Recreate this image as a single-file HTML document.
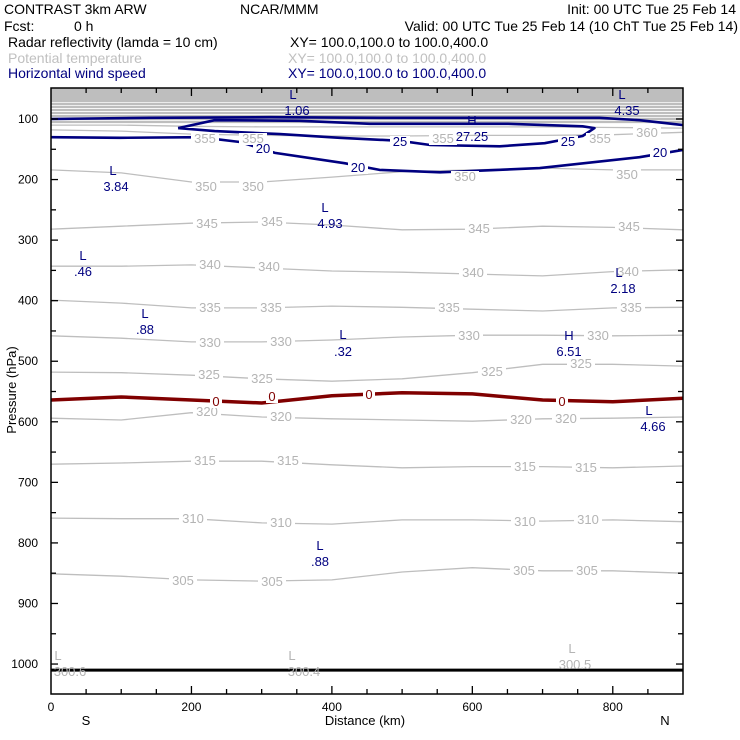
<!DOCTYPE html>
<html><head><meta charset="utf-8"><style>
html,body{margin:0;padding:0;background:#fff;}
svg{display:block;font-family:"Liberation Sans",sans-serif;}
</style></head><body>
<svg id="chart" width="740" height="740" viewBox="0 0 740 740">
<g font-size="14">
<text x="4" y="14">CONTRAST  3km ARW</text>
<text x="240" y="14">NCAR/MMM</text>
<text x="736" y="14" text-anchor="end">Init: 00 UTC Tue 25 Feb 14</text>
<text x="4" y="31">Fcst:</text>
<text x="74" y="31">0 h</text>
<text x="738" y="31" text-anchor="end">Valid: 00 UTC Tue 25 Feb 14 (10 ChT Tue 25 Feb 14)</text>
<text x="8" y="47">Radar reflectivity (lamda = 10 cm)</text>
<text x="290" y="47">XY= 100.0,100.0 to 100.0,400.0</text>
<text x="8" y="63" fill="#c0c0c0">Potential temperature</text>
<text x="288" y="63" fill="#c0c0c0">XY= 100.0,100.0 to 100.0,400.0</text>
<text x="8" y="78" fill="#000080">Horizontal wind speed</text>
<text x="288" y="78" fill="#000080">XY= 100.0,100.0 to 100.0,400.0</text>
</g>
<g id="plot"></g>
</svg>
<script>
// ---- data ----
const xKm = [0,100,200,300,400,500,600,700,800,900];
const thetaLevels = [305,310,315,320,325,330,335,340,345,350,355,360];
const thetaP305 = [851,855,861,863,861,848,841,846,846,850];
const thetaP310 = [759,760,760,767,769,762,762,764,762,765];
const thetaP315 = [670,668,665,665,671,676,674,674,676,673];
const thetaP320 = [594,597,585,592,595,597,599,595,594,592];
const thetaP325 = [518,519,523,529,533,529,519,505,505,508];
const thetaP330 = [458,462,468,468,465,460,457,457,458,457];
const thetaP335 = [399,404,412,412,409,411,414,417,412,411];
const thetaP340 = [343,343,341,346,351,353,356,359,352,349];
const thetaP345 = [282,277,272,270,275,283,282,277,279,283];
const thetaP350 = [184,189,204,204,196,187,184,181,184,184];
const thetaP355 = [118,120,125,127,128,128,127,127,126,122];
const thetaP360 = [110,110,112,113,113,113,113,113,114,115];
const stratoP = [75,80,85,90,95,100,105];
const freezeP = [564,559,564,569,557,552,554,564,567,561];
const surfaceP = [1010,1010,1010,1010,1010,1010,1010,1010,1010,1010];
const wind20UpperKm = [0,141,312,468,568,696,781,838,900];
const wind20UpperP = [100,98,97,98,98,98,98,102,110];
const wind20LowerKm = [0,98,212,269,319,418,468,554,696,838,900];
const wind20LowerP = [130,131,130,138,156,173,184,188,181,163,151];
const wind25Km = [181,233,354,454,572,651,757,774,757,703,639,540,497,411,326,233,181];
const wind25P = [115,102,103,108,108,108,112,115,128,140,145,143,136,131,125,120,115];
const yTicks = [100,200,300,400,500,600,700,800,900,1000];
const xTicks = [0,200,400,600,800];

// ---- axes ----
const X0=51,X1=683,Y0=88,Y1=694;
const sx = km => X0 + km*(X1-X0)/900;
const sy = p => 119 + (p-100)*0.6056;
const NS='http://www.w3.org/2000/svg';
const plot=document.getElementById('plot');
function mk(tag,attrs,parent){const e=document.createElementNS(NS,tag);for(const k in attrs)e.setAttribute(k,attrs[k]);(parent||plot).appendChild(e);return e;}
function txt(x,y,s,fill,size,anchor,parent){const t=mk('text',{x:x,y:y,fill:fill,'font-size':size,'text-anchor':anchor||'middle'},parent);t.textContent=s;return t;}
function poly(kms,ps,stroke,w){return mk('polyline',{points:kms.map((k,i)=>sx(k).toFixed(1)+','+sy(ps[i]).toFixed(1)).join(' '),fill:'none',stroke:stroke,'stroke-width':w,'stroke-linejoin':'round'});}

const clip=mk('clipPath',{id:'pc'});mk('rect',{x:X0,y:Y0,width:X1-X0,height:Y1-Y0},clip);
const g=mk('g',{'clip-path':'url(#pc)'});



// stratosphere dense band
const band=mk('rect',{x:X0,y:Y0,width:X1-X0,height:sy(72)-Y0,fill:'#bebebe'},g);


stratoP.forEach(p=>{const l=mk('line',{x1:X0,x2:X1,y1:sy(p),y2:sy(p),stroke:'#bebebe','stroke-width':2.2},g);

});

const thetaSeries=[thetaP305,thetaP310,thetaP315,thetaP320,thetaP325,thetaP330,thetaP335,thetaP340,thetaP345,thetaP350,thetaP355,thetaP360];
thetaSeries.forEach((ps,i)=>{const l=poly(xKm,ps,'#bebebe',1.3);g.appendChild(l);

});

const fl=poly(xKm,freezeP,'#800000',3.5);g.appendChild(fl);



[[wind20UpperKm,wind20UpperP,'20-upper'],[wind20LowerKm,wind20LowerP,'20-lower'],[wind25Km,wind25P,'25']].forEach(s=>{
const l=poly(s[0],s[1],'#000080',2.6);g.appendChild(l);

});

const sf=poly(xKm,surfaceP,'#000',3);g.appendChild(sf);



// contour labels
const lblG=mk('g',{},g);


function lab(x,y,s,col,bg){ if(bg){mk('rect',{x:x-s.length*4-2,y:y-10,width:s.length*8+4,height:12,fill:'#fff'},lblG);} const t=txt(x,y,s,col,13,'middle',lblG);

}
const grayL=[[183,581,'305'],[272,582,'305'],[524,571,'305'],[587,571,'305'],
[193,519,'310'],[281,523,'310'],[525,522,'310'],[588,520,'310'],
[205,461,'315'],[288,461,'315'],[525,467,'315'],[586,468,'315'],
[207,412,'320'],[281,417,'320'],[521,420,'320'],[566,419,'320'],
[209,375,'325'],[262,379,'325'],[492,372,'325'],[581,364,'325'],
[210,343,'330'],[281,342,'330'],[469,336,'330'],[598,336,'330'],
[210,308,'335'],[271,308,'335'],[449,308,'335'],[631,308,'335'],
[210,265,'340'],[269,267,'340'],[473,273,'340'],[628,272,'340'],
[207,224,'345'],[272,222,'345'],[479,229,'345'],[629,227,'345'],
[206,187,'350'],[253,187,'350'],[465,177,'350'],[627,175,'350'],
[205,139,'355'],[253,139,'355'],[443,139,'355'],[600,139,'355'],[647,133,'360']];
grayL.forEach(a=>lab(a[0],a[1]+4,a[2],'#b4b4b4',true));
[[216,401],[272,396],[369,394],[562,401]].forEach(a=>lab(a[0],a[1]+5,'0','#800000',true));
[[263,148],[358,167],[660,152],[400,141],[568,141]].forEach((a,i)=>lab(a[0],a[1]+5,i<3?'20':'25','#000080',true));
const hl=[['L',293,94],['1.06',297,110],['L',622,94],['4.35',627,110],['H',472,120],['27.25',472,136],
['L',113,170],['3.84',116,186],['L',325,207],['4.93',330,223],['L',83,255],['.46',83,271],
['L',619,272],['2.18',623,288],['L',145,313],['.88',145,329],['L',343,334],['.32',343,351],
['H',569,335],['6.51',569,351],['L',649,410],['4.66',653,426],['L',320,545],['.88',320,561]];
hl.forEach(a=>lab(a[1],a[2]+5,a[0],'#000080',false));
[['L',58,655],['300.6',70,671],['L',292,655],['300.4',304,671],['L',572,648],['300.5',575,664]].forEach(a=>lab(a[1],a[2]+5,a[0],'#b4b4b4',false));

// frame & ticks
const fr=mk('rect',{x:X0,y:Y0,width:X1-X0,height:Y1-Y0,fill:'none',stroke:'#000','stroke-width':1.5});


for(let p=50;p<=1050;p+=50){const y=sy(p);if(y<Y0+1||y>Y1-1)continue;const L=(p%100===0)?7:5;
mk('line',{x1:X0,x2:X0+L,y1:y,y2:y,stroke:'#000','stroke-width':1.3});mk('line',{x1:X1-L,x2:X1,y1:y,y2:y,stroke:'#000','stroke-width':1.3});}
for(let k=50;k<900;k+=50){const x=sx(k);const L=(k%200===0)?8:5;
mk('line',{x1:x,x2:x,y1:Y0,y2:Y0+L,stroke:'#000','stroke-width':1.3});mk('line',{x1:x,x2:x,y1:Y1-L,y2:Y1,stroke:'#000','stroke-width':1.3});}
yTicks.forEach(p=>{const t=txt(38,sy(p)+4,String(p),'#000',12,'end');

});
xTicks.forEach(k=>{const t=txt(sx(k),711,String(k),'#000',12,'middle');

});
let t=txt(365,725,'Distance (km)','#000',13,'middle');


t=txt(86,725,'S','#000',13,'middle');


t=txt(665,725,'N','#000',13,'middle');


t=txt(0,0,'Pressure (hPa)','#000',13,'middle');
t.setAttribute('transform','translate(16,390) rotate(-90)');


</script>
</body></html>
